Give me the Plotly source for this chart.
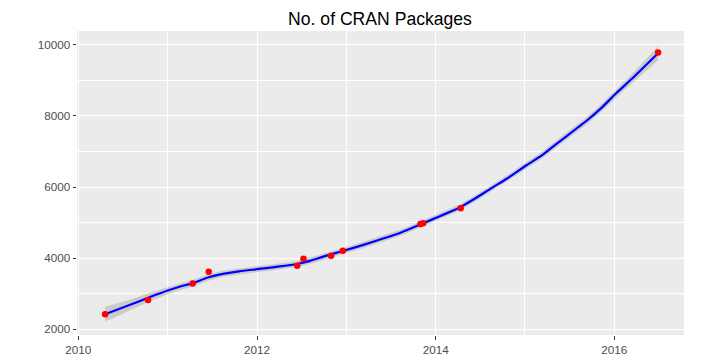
import plotly.graph_objects as go

# Observed CRAN package counts (decimal year, packages)
obs_years = [2010.30, 2010.78, 2011.28, 2011.46, 2012.45, 2012.52, 2012.83,
             2012.96, 2013.83, 2013.86, 2014.28, 2016.49]
obs_packages = [2421, 2823, 3286, 3619, 3788, 3984, 4069, 4209, 4960, 4979,
                5405, 9780]

# Loess smooth (and half-width of its confidence band)
smooth_years = [2010.30, 2010.55, 2010.79, 2011.00, 2011.15, 2011.28, 2011.45,
                2011.62, 2011.80, 2012.00, 2012.20, 2012.45, 2012.60, 2012.75,
                2012.96, 2013.20, 2013.42, 2013.62, 2013.84, 2014.06, 2014.28,
                2014.45, 2014.62, 2014.80, 2015.02, 2015.20, 2015.36, 2015.70,
                2015.85, 2016.02, 2016.22, 2016.49]
smooth_values = [2421, 2660, 2895, 3090, 3210, 3293, 3455, 3560, 3630, 3690,
                 3750, 3835, 3930, 4050, 4200, 4380, 4558, 4730, 4960, 5193,
                 5440, 5690, 5963, 6240, 6618, 6910, 7228, 7883, 8210, 8633,
                 9100, 9760]
smooth_se = [210, 150, 120, 105, 95, 90, 88, 86, 85, 85, 85, 85, 85, 85, 85,
             85, 85, 85, 85, 85, 85, 86, 88, 90, 95, 98, 100, 105, 108, 115,
             135, 200]

y_ticks = [2000, 4000, 6000, 8000, 10000]
y_minor = [3000, 5000, 7000, 9000]
x_ticks = [2010, 2012, 2014, 2016]
x_minor = [2011, 2013, 2015]

upper = [v + s for v, s in zip(smooth_values, smooth_se)]
lower = [v - s for v, s in zip(smooth_values, smooth_se)]

fig = go.Figure()
fig.add_trace(go.Scatter(x=smooth_years, y=upper, mode="lines",
                         line=dict(width=0), hoverinfo="skip", showlegend=False))
fig.add_trace(go.Scatter(x=smooth_years, y=lower, mode="lines",
                         line=dict(width=0), fill="tonexty",
                         fillcolor="rgba(153,153,153,0.4)",
                         hoverinfo="skip", showlegend=False))
fig.add_trace(go.Scatter(x=smooth_years, y=smooth_values, mode="lines",
                         line=dict(color="#0000FF", width=2.2, shape="spline",
                                   smoothing=0.6),
                         showlegend=False))
fig.add_trace(go.Scatter(x=obs_years, y=obs_packages, mode="markers",
                         marker=dict(color="#FF0000", size=6.5),
                         showlegend=False))

tick_font = dict(family="Liberation Sans, Arial, sans-serif", size=11.7,
                 color="#4D4D4D")
axis_common = dict(
    showline=False, zeroline=False, automargin=False,
    gridcolor="white", gridwidth=1.1,
    ticks="outside", ticklen=3.5, tickwidth=1, tickcolor="#333333",
    tickfont=tick_font,
)

fig.update_xaxes(range=[2009.985, 2016.78], tickvals=x_ticks,
                 ticktext=[str(t) for t in x_ticks],
                 minor=dict(showgrid=True, gridcolor="white", gridwidth=0.55,
                            ticks="", tickvals=x_minor),
                 **axis_common)
fig.update_yaxes(range=[1840, 10385], tickvals=y_ticks,
                 ticktext=[str(t) for t in y_ticks],
                 minor=dict(showgrid=True, gridcolor="white", gridwidth=0.55,
                            ticks="", tickvals=y_minor),
                 **axis_common)

# page body has an 8px default margin, so figure coords = screen - 8
fig.update_layout(
    width=720, height=360,
    margin=dict(l=69, r=44, t=23, b=33),
    paper_bgcolor="white", plot_bgcolor="#EBEBEB",
    title=dict(text="No. of CRAN Packages", x=372 / 720, xanchor="center",
               xref="container", y=1 - 10.5 / 360, yanchor="middle",
               yref="container",
               font=dict(family="Liberation Sans, Arial, sans-serif", size=17.6,
                         color="black")),
    showlegend=False,
)

fig.write_html("out.html")
